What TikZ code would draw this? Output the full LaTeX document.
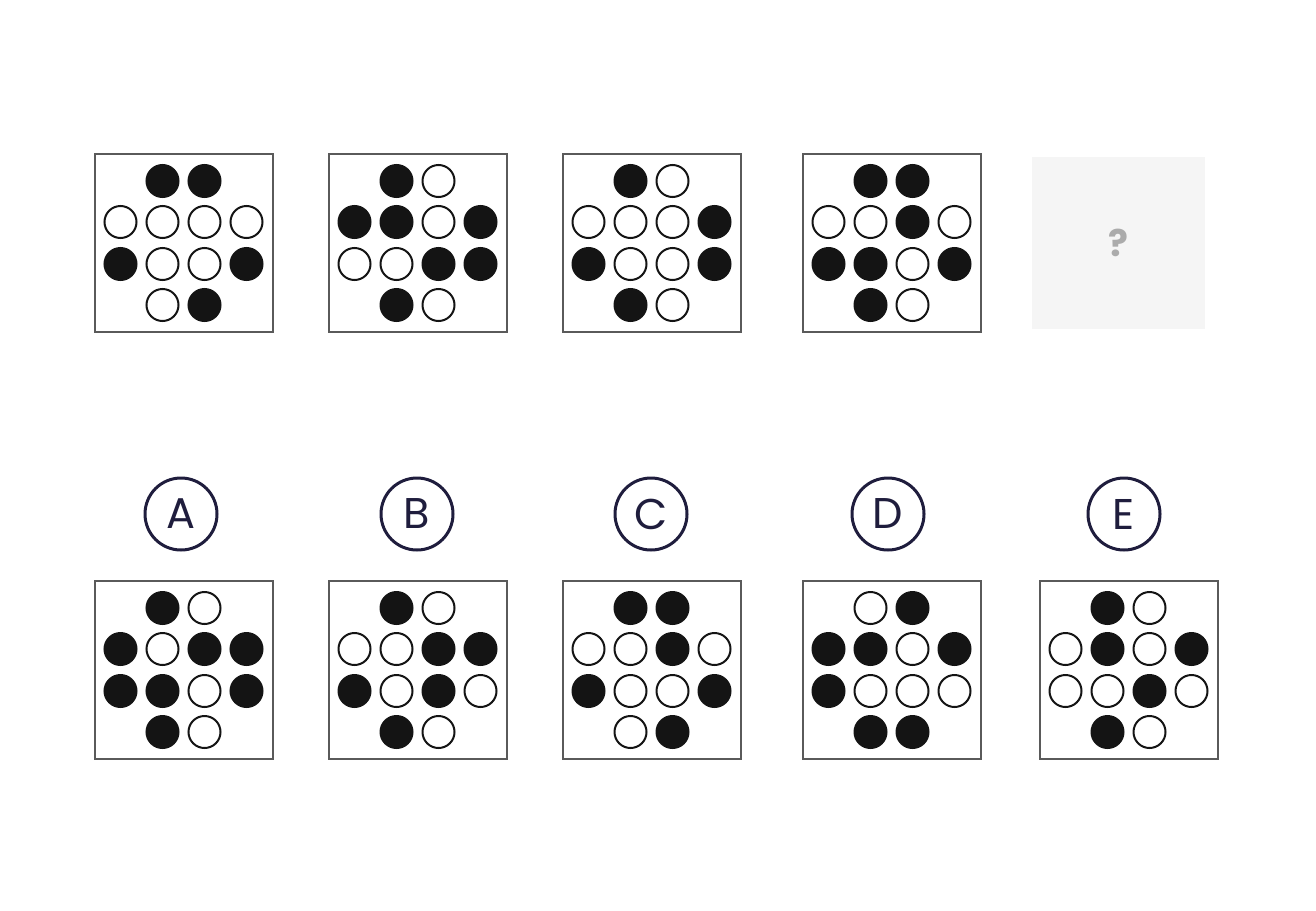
\documentclass[tikz,border=0pt]{standalone}
\usepackage{fontspec}
\setmainfont{Poppins}
\usepackage{xcolor}
\definecolor{framegray}{HTML}{5A5A5A}
\definecolor{dotblack}{HTML}{141414}
\definecolor{navy}{HTML}{1F1D3D}
\definecolor{blankfill}{HTML}{F5F5F5}
\definecolor{qgray}{HTML}{ABABAB}

\begin{document}
\begin{tikzpicture}[x=0.5pt, y=-0.5pt,
    panel/.style={draw=framegray, line width=1pt, fill=white, minimum size=89pt, inner sep=0pt},
    dotB/.style={fill=dotblack, draw=dotblack, line width=1pt},
    dotW/.style={fill=white, draw=dotblack, line width=1pt},
    choice/.style={circle, draw=navy, line width=1.5pt, minimum size=36pt, inner sep=0pt, text=navy, font=\fontsize{21.5}{21.5}\selectfont}]
  \useasboundingbox (0,0) rectangle (1316,910);

  % Panel with its twelve dots (B = black, W = white), row by row
  \newcommand{\dotpanel}[4]{
    \node[panel] (#1) at (#2,#3) {};
    \foreach \f [count=\i from 0] in {#4} {
      \pgfmathsetmacro{\dx}{{-21,21,-63,-21,21,63,-63,-21,21,63,-21,21}[\i]}
      \pgfmathsetmacro{\dy}{{-62,-62,-21,-21,-21,-21,21,21,21,21,62,62}[\i]}
      \draw[dot\f] (#2+\dx,#3+\dy) circle[radius=8pt];
    }
  }

  % Question row
  \dotpanel{q1}{183.5}{243}{B,B, W,W,W,W, B,W,W,B, W,B}
  \dotpanel{q2}{417.5}{243}{B,W, B,B,W,B, W,W,B,B, B,W}
  \dotpanel{q3}{651.5}{243}{B,W, W,W,W,B, B,W,W,B, B,W}
  \dotpanel{q4}{891.5}{243}{B,B, W,W,B,W, B,B,W,B, B,W}

  % Missing panel
  \node[fill=blankfill, minimum width=86.5pt, minimum height=86pt, inner sep=0pt] (q5) at (1118.5,243) {};
  \node[text=qgray, font=\bfseries\fontsize{18.5}{18.5}\selectfont] (qmark) at (q5) {?};

  % Answer labels
  \node[choice] (lA) at (181,514) {A};
  \node[choice] (lB) at (417,514) {B};
  \node[choice] (lC) at (651,514) {C};
  \node[choice] (lD) at (888,514) {D};
  \node[choice] (lE) at (1124,514) {E};

  % Answer panels
  \dotpanel{aA}{183.5}{670}{B,W, B,W,B,B, B,B,W,B, B,W}
  \dotpanel{aB}{417.5}{670}{B,W, W,W,B,B, B,W,B,W, B,W}
  \dotpanel{aC}{651.5}{670}{B,B, W,W,B,W, B,W,W,B, W,B}
  \dotpanel{aD}{891.5}{670}{W,B, B,B,W,B, B,W,W,W, B,B}
  \dotpanel{aE}{1128.5}{670}{B,W, W,B,W,B, W,W,B,W, B,W}

\end{tikzpicture}
\end{document}
